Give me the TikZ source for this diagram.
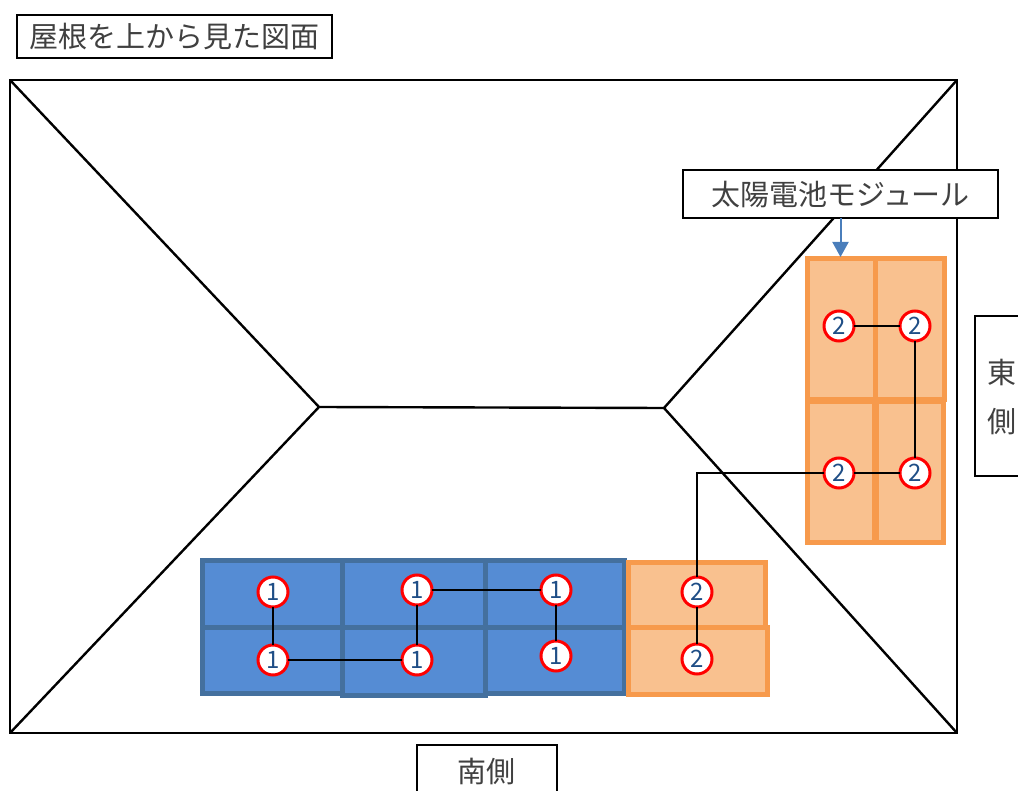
\documentclass[tikz,border=0pt]{standalone}
\usepackage{fontspec}
\setmainfont{Noto Sans CJK JP}
\usetikzlibrary{arrows.meta,calc}
\definecolor{bluefill}{HTML}{558CD4}
\definecolor{bluedge}{HTML}{44709E}
\definecolor{orfill}{HTML}{F9C18F}
\definecolor{oredge}{HTML}{F79A4C}
\definecolor{numblue}{HTML}{1F4E86}
\definecolor{labelgray}{HTML}{404040}
\definecolor{arrowblue}{HTML}{4A7EBB}
\tikzset{
  x=1pt,y=-1pt,
  roofline/.style={draw=black,line width=2.4pt,line join=miter},
  labelfont/.style={text=labelgray,font=\fontsize{29}{32}\selectfont},
  labelbox/.style={draw=black,line width=2pt,fill=white,inner sep=0pt,outer sep=0pt,labelfont},
  bluepanel/.style={draw=bluedge,fill=bluefill,line width=5pt,inner sep=0pt,outer sep=0pt},
  orpanel/.style={draw=oredge,fill=orfill,line width=5pt,inner sep=0pt,outer sep=0pt},
  tag/.style={circle,draw=red,fill=white,line width=3pt,inner sep=0pt,outer sep=0pt,minimum size=30pt,text=numblue,font=\fontsize{24}{26}\selectfont},
  wire/.style={draw=black,line width=2.2pt},
  pointer/.style={draw=arrowblue,line width=2pt,-{Triangle[length=15pt,width=16pt]}}
}
\newcommand{\panelnode}[6]{\node[#1,minimum width=#5-#3,minimum height=#6-#4] (#2) at ({(#3+#5)/2},{(#4+#6)/2}) {};}
\begin{document}
\begin{tikzpicture}
\useasboundingbox (0,0) rectangle (1018,791);
\clip (0,0) rectangle (1018,791);
% roof
\coordinate (tl) at (10,80);
\coordinate (tr) at (957,80);
\coordinate (br) at (957,733);
\coordinate (bl) at (10,733);
\coordinate (rl) at (319,407);
\coordinate (rr) at (664,408);
\draw[roofline] (tl) -- (tr) -- (br) -- (bl) -- cycle;
\draw[roofline] (tl) -- (rl) -- (bl);
\draw[roofline] (rl) -- (rr);
\draw[roofline] (tr) -- (rr) -- (br);
% blue panels
\panelnode{bluepanel}{b1}{202}{560}{342}{627}
\panelnode{bluepanel}{b2}{485}{560}{624}{627}
\panelnode{bluepanel}{b3}{202}{627}{342}{693}
\panelnode{bluepanel}{b4}{485}{627}{624}{693}
\panelnode{bluepanel}{b5}{342}{560}{485}{627}
\panelnode{bluepanel}{b6}{342}{627}{485}{695}
% orange panels, south
\panelnode{orpanel}{o1}{628}{562}{765.5}{627}
\panelnode{orpanel}{o2}{628}{627}{767}{694}
% orange panels, east
\panelnode{orpanel}{o3}{807.5}{402}{874}{542.5}
\panelnode{orpanel}{o4}{876}{402}{943}{542.5}
\panelnode{orpanel}{o5}{807.5}{259}{875}{400}
\panelnode{orpanel}{o6}{875}{259}{944.5}{400}
% labels
\node[labelbox,minimum width=315pt,minimum height=43pt] (title) at (174.5,36.5) {屋根を上から見た図面};
\node[labelbox,minimum width=315pt,minimum height=48pt] (module) at (840.5,194.5) {太陽電池モジュール};
\node[labelbox,minimum width=140pt,minimum height=60pt] (south) at (486.5,775) {};
\node[labelfont,inner sep=0pt] (southtext) at (486.5,771) {南側};
\node[labelbox,minimum width=80pt,minimum height=160pt] (east) at (1015,396) {};
\node[labelfont,inner sep=0pt] (easta) at (1002,372) {東};
\node[labelfont,inner sep=0pt] (eastb) at (1002,422) {側};
\coordinate (arrowend) at (module.south |- o5.north);
\draw[pointer] (module.south) -- ($(arrowend)+(0,-2)$);
% tags
\node[tag] (a1) at (273,592) {1};
\node[tag] (a2) at (273,660) {1};
\node[tag] (a3) at (417,590) {1};
\node[tag] (a4) at (417,660) {1};
\node[tag] (a5) at (556,590) {1};
\node[tag] (a6) at (556,656) {1};
\node[tag] (c1) at (697,592) {2};
\node[tag] (c2) at (697,659) {2};
\node[tag] (c3) at (839,326) {2};
\node[tag] (c4) at (915,326) {2};
\node[tag] (c5) at (839,473) {2};
\node[tag] (c6) at (915,473) {2};
% wires
\draw[wire] (a1) -- (a2);
\draw[wire] (a2) -- (a4);
\draw[wire] (a4) -- (a3);
\draw[wire] (a3) -- (a5);
\draw[wire] (a5) -- (a6);
\draw[wire] (c1) -- (c2);
\draw[wire] (c3) -- (c4);
\draw[wire] (c4) -- (c6);
\draw[wire] (c6) -- (c5);
\draw[wire] (c5) -| (c1);
\end{tikzpicture}
\end{document}
